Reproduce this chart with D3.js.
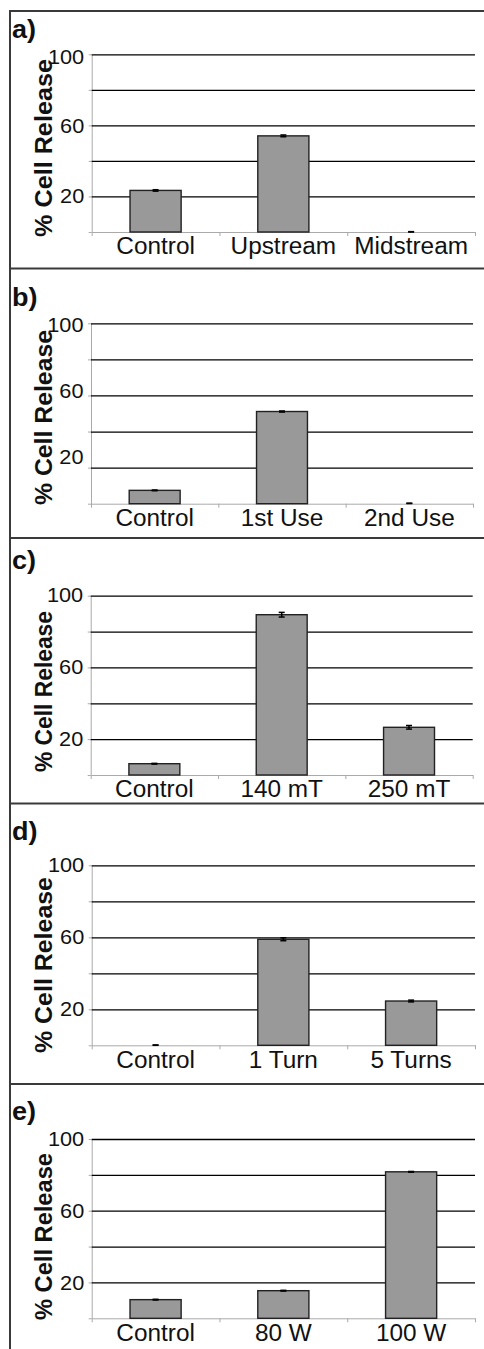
<!DOCTYPE html>
<meta charset="utf-8">
<head>
<script src="https://d3js.org/d3.v7.min.js"></script>
<style>
body { margin: 0; background: #fff; }
text { font-family: "Liberation Sans", Arial, sans-serif; fill: #111; }
.grid line { stroke: #000; stroke-width: 1.3; }
.grid path { stroke-width: 0; }
.gray path, .gray line { stroke: #aaa; stroke-width: 1; }
.bar { fill: #999; stroke: #222; stroke-width: 1.4; }
.err { stroke: #000; stroke-width: 1.5; }
</style>
</head>
<body>
<script>

// data
var panelNames = ["a)", "b)", "c)", "d)", "e)"];
var categoriesA = ["Control", "Upstream", "Midstream"];
var valuesA = [23.4, 54.1, 0.1];
var errorsA = [0.4, 0.5, 0.1];
var categoriesB = ["Control", "1st Use", "2nd Use"];
var valuesB = [7.4, 51.1, 0.2];
var errorsB = [0.2, 0.3, 0.1];
var categoriesC = ["Control", "140 mT", "250 mT"];
var valuesC = [6.3, 89.4, 26.6];
var errorsC = [0.2, 1.3, 1.0];
var categoriesD = ["Control", "1 Turn", "5 Turns"];
var valuesD = [0.1, 58.9, 24.6];
var errorsD = [0.1, 0.8, 0.5];
var categoriesE = ["Control", "80 W", "100 W"];
var valuesE = [10.4, 15.4, 81.7];
var errorsE = [0.2, 0.2, 0.2];
var yTicks = [0, 20, 40, 60, 80, 100];
var yTickLabels = [20, 60, 100];
var yTitle = "% Cell Release";

// where each panel sits on the page
var layout = [
  {box: 11,     top: 54.3,  bottom: 232,    left: 91.7, right: 475,   lab: 38,   labTop: 57,   labBot: 230.4, tLen: 178, tBot: 237},
  {box: 268.5,  top: 323.3, bottom: 503.7,  left: 91,   right: 473,   lab: 306,  labTop: 325,  labBot: 490,   tLen: 175, tBot: 505},
  {box: 538,    top: 595.7, bottom: 775,    left: 90.7, right: 472.7, lab: 569,  labTop: 595,  labBot: 774.8, tLen: 161, tBot: 772},
  {box: 803.5,  top: 865.3, bottom: 1045.3, left: 91.7, right: 475,   lab: 840,  labTop: 865.3,labBot: 1045.3,tLen: 176, tBot: 1053},
  {box: 1084,   top: 1139,  bottom: 1318.3, left: 91.7, right: 475,   lab: 1120, labTop: 1139, labBot: 1318.3,tLen: 167, tBot: 1320}
];

var panels = [
  {cats: categoriesA, vals: valuesA, errs: errorsA},
  {cats: categoriesB, vals: valuesB, errs: errorsB},
  {cats: categoriesC, vals: valuesC, errs: errorsC},
  {cats: categoriesD, vals: valuesD, errs: errorsD},
  {cats: categoriesE, vals: valuesE, errs: errorsE}
];

var W = 484, H = 1349;
var stretch = 1.06; // the source figure is slightly wider than tall

var svg = d3.select("body").append("svg")
    .attr("width", W)
    .attr("height", H);

svg.append("rect").attr("width", W).attr("height", H).attr("fill", "#fff");

panels.forEach(function(p, i) {
  var L = layout[i];
  var g = svg.append("g");

  var x = d3.scaleBand().domain(p.cats).range([L.left, L.right])
      .paddingInner(0.6).paddingOuter(0.3);
  var xEdge = d3.scaleLinear().domain([0, p.cats.length]).range([L.left, L.right]);
  var y = d3.scaleLinear().domain([0, 100]).range([L.bottom, L.top]);
  var yLab = d3.scaleLinear().domain([0, 100]).range([L.labBot, L.labTop]);

  // panel frame line
  g.append("line")
      .attr("x1", 10).attr("x2", W)
      .attr("y1", L.box).attr("y2", L.box)
      .attr("stroke", "#3a3a3a").attr("stroke-width", 2);

  // gray y axis with small ticks
  g.append("g")
      .attr("class", "gray")
      .attr("transform", "translate(" + L.left + ",0)")
      .call(d3.axisLeft(y).tickValues(yTicks).tickSize(3).tickSizeOuter(0).tickFormat(""));

  // gray x axis with ticks between categories
  g.append("g")
      .attr("class", "gray")
      .attr("transform", "translate(0," + L.bottom + ")")
      .call(d3.axisBottom(xEdge).tickValues(d3.range(p.cats.length + 1)).tickSize(4).tickSizeOuter(0).tickFormat(""));

  // gridlines
  g.append("g")
      .attr("class", "grid")
      .attr("transform", "translate(" + L.left + ",0)")
      .call(d3.axisLeft(y).tickValues(yTicks.slice(1)).tickSize(-(L.right - L.left)).tickFormat(""));

  // y tick labels
  var yl = g.append("g")
      .attr("transform", "translate(" + L.left + ",0)")
      .call(d3.axisLeft(yLab).tickValues(yTickLabels).tickSize(0).tickPadding(7.5));
  yl.select(".domain").remove();
  yl.selectAll("text")
      .style("font-size", "20.5px")
      .attr("fill", "#111")
      .attr("x", -7.5 / stretch)
      .attr("transform", "scale(" + stretch + ",1)");

  // bars
  g.selectAll(".bar")
      .data(p.vals)
      .enter().append("rect")
      .attr("class", "bar")
      .attr("x", function(d, j) { return x(p.cats[j]); })
      .attr("width", x.bandwidth())
      .attr("y", function(d) { return y(d); })
      .attr("height", function(d) { return y(0) - y(d); })
      .style("display", function(d) { return d > 0.5 ? null : "none"; });

  // error bars
  var cap = 3;
  p.vals.forEach(function(v, j) {
    var cx = x(p.cats[j]) + x.bandwidth() / 2;
    var e = p.errs[j];
    var hi = y(v + e), lo = y(Math.max(0, v - e));
    g.append("line").attr("class", "err")
        .attr("x1", cx).attr("x2", cx).attr("y1", hi).attr("y2", lo);
    g.append("line").attr("class", "err")
        .attr("x1", cx - cap).attr("x2", cx + cap).attr("y1", hi).attr("y2", hi);
    g.append("line").attr("class", "err")
        .attr("x1", cx - cap).attr("x2", cx + cap).attr("y1", lo).attr("y2", lo);
  });

  // category labels
  var xl = g.append("g")
      .attr("transform", "translate(0," + L.bottom + ")")
      .call(d3.axisBottom(x).tickSize(0).tickPadding(6));
  xl.select(".domain").remove();
  xl.selectAll("text")
      .style("font-size", "23px")
      .attr("fill", "#111")
      .attr("transform", "scale(" + stretch + ",1)");

  // axis title
  g.append("text")
      .attr("transform", "translate(52," + L.tBot + ") scale(" + stretch + ",1) rotate(-90)")
      .attr("textLength", L.tLen)
      .attr("lengthAdjust", "spacingAndGlyphs")
      .style("font-size", "23px")
      .style("font-weight", "bold")
      .text(yTitle);

  // panel letter
  g.append("text")
      .attr("transform", "translate(12," + L.lab + ") scale(" + stretch + ",1)")
      .style("font-size", "25.5px")
      .style("font-weight", "bold")
      .text(panelNames[i]);
});

// left frame line
svg.append("line")
    .attr("x1", 10).attr("x2", 10)
    .attr("y1", 10).attr("y2", H)
    .attr("stroke", "#3a3a3a").attr("stroke-width", 2);

</script>
</body>
